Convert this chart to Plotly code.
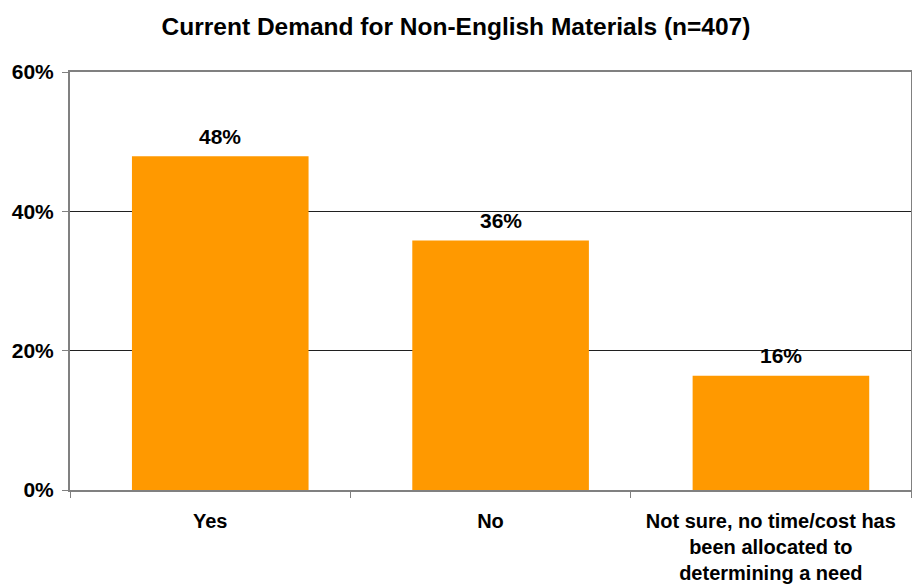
import plotly.graph_objects as go

categories = ["Yes", "No", "Not sure, no time/cost has<br>been allocated to<br>determining a need"]
values = [47.9, 35.8, 16.4]
value_labels = ["48%", "36%", "16%"]
y_ticks = [0, 20, 40, 60]
y_tick_labels = ["0%", "20%", "40%", "60%"]

FONT = "Liberation Sans, Arial, sans-serif"

fig = go.Figure()
fig.add_trace(go.Bar(x=categories, y=values, marker=dict(color="#FF9900", line=dict(width=0)),
                     width=0.63, offset=-0.279, hoverinfo="skip"))

for c, v, t in zip(categories, values, value_labels):
    fig.add_annotation(x=c, y=v, text="<b>%s</b>" % t, showarrow=False, yshift=20, xshift=10,
                       font=dict(family=FONT, size=21, color="black"), yanchor="middle")

fig.update_layout(
    width=912, height=585,
    margin=dict(l=70, r=1, t=72, b=95),
    paper_bgcolor="white", plot_bgcolor="white",
    showlegend=False,
    title=dict(text="<b>Current Demand for Non-English Materials (n=407)</b>",
               x=0.5, xanchor="center", y=1 - 26 / 585, yanchor="middle",
               font=dict(family=FONT, size=24.5, color="black")),
    font=dict(family=FONT, color="black"),
)
fig.update_yaxes(range=[0, 60], tickvals=y_ticks, ticktext=["<b>%s</b>" % t for t in y_tick_labels],
                 showgrid=True, gridcolor="#202020", gridwidth=1,
                 showline=True, linecolor="#808080", linewidth=2, mirror=True,
                 ticks="outside", ticklen=6, tickcolor="#808080", tickwidth=1,
                 tickfont=dict(family=FONT, size=21, color="black"), zeroline=False,
                 ticklabelstandoff=4, automargin=False)
fig.update_xaxes(tickvals=categories, ticktext=["<b>%s</b>" % c for c in categories],
                 tickson="boundaries", ticks="outside", ticklen=6, tickcolor="#808080",
                 showline=True, linecolor="#808080", linewidth=2, mirror=True,
                 tickfont=dict(family=FONT, size=20, color="black"),
                 ticklabelstandoff=12, automargin=False)

fig.write_html("out.html")
